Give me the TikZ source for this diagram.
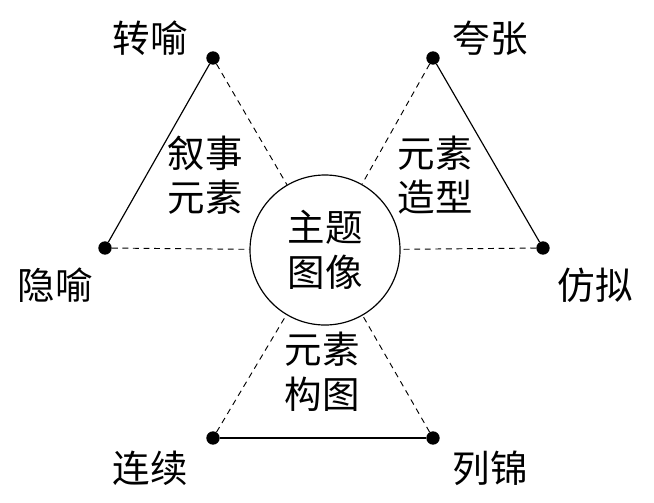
\documentclass[tikz,border=0pt]{standalone}
\usepackage{fontspec}
\setmainfont{Noto Sans CJK SC}
\usetikzlibrary{positioning}
\tikzset{
	dot/.style={circle,fill=black,inner sep=0pt,minimum size=0.4cm},
	lab/.style={font=\fontsize{32}{38}\selectfont,inner sep=0pt},
	dash line/.style={dash pattern=on 5pt off 4pt,line width=0.8pt}
}
\begin{document}
\begin{tikzpicture}[x=0.03cm,y=-0.03cm]
\useasboundingbox (0,0) rectangle (654,502);

%Centre
\node[circle,draw,line width=1pt,minimum size=4.5cm,lab,align=center] (C) at (325,250) {主题\\[0pt]图像};

%Sommets
\node[dot] (ZY) at (213,58) {};
\node[dot] (KZ) at (433,58) {};
\node[dot] (YY) at (105,248) {};
\node[dot] (FN) at (543,248) {};
\node[dot] (LX) at (213,438) {};
\node[dot] (LJ) at (433,438) {};

%Etiquettes
\node[lab] at (150,38) {转喻};
\node[lab] at (490,38) {夸张};
\node[lab] at (55,285) {隐喻};
\node[lab] at (595,285) {仿拟};
\node[lab] at (150,468) {连续};
\node[lab] at (490,468) {列锦};
\node[lab,align=center] at (205,175) {叙事\\[0pt]元素};
\node[lab,align=center] at (435,175) {元素\\[0pt]造型};
\node[lab,align=center] at (322,372) {元素\\[0pt]构图};

%Traits
\draw[line width=1pt] (ZY) -- (YY);
\draw[line width=1pt] (KZ) -- (FN);
\draw[line width=1pt] (LX) -- (LJ);
\foreach \p in {ZY,KZ,YY,FN,LX,LJ}
	\draw[dash line] (\p) -- (C);
\end{tikzpicture}
\end{document}
